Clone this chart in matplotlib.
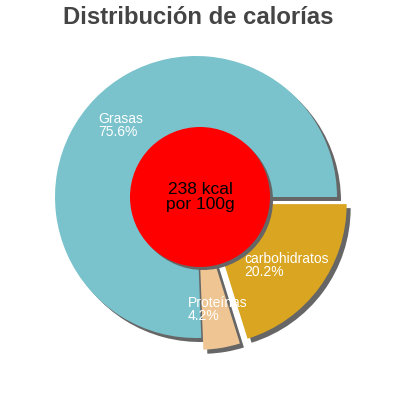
import numpy as np
import matplotlib
matplotlib.use("Agg")
import matplotlib.pyplot as plt
from matplotlib.patches import Circle

plt.rcParams['font.family'] = ['Liberation Sans', 'DejaVu Sans']

# data
labels = ["Grasas", "Proteínas", "carbohidratos"]
values = [75.6, 4.2, 20.2]
colors = ["#7AC3CC", "#EFC693", "#DAA520"]
explode = [0.0, 12, 12]  # px, matplotlib does not scale this by radius
kcal_text = "238 kcal\npor 100g"

fig = plt.figure(figsize=(4, 4), dpi=100)
ax = fig.add_axes([0, 0, 1, 1])

cx, cy, R = 196, 203, 141
sh = 4  # shadow offset in px

# shadows first
ax.pie(values, explode=explode, startangle=0, radius=R,
       center=(cx + sh, cy - sh), colors=["#666666"] * 3,
       wedgeprops=dict(linewidth=0), frame=True)
wedges, _ = ax.pie(values, explode=explode, startangle=0, radius=R,
                   center=(cx, cy), colors=colors,
                   wedgeprops=dict(linewidth=0), frame=True)
ax.set_xlim(0, 400)
ax.set_ylim(0, 400)
ax.set_aspect("equal")
ax.axis("off")

# labels (angle, fraction of radius from the wedge centre)
label_pos = [(139, 0.92), (263.4, 0.62), (308.6, 0.435)]
for w, lab, v, (ang, d) in zip(wedges, labels, values, label_pos):
    wx, wy = w.center
    a = np.deg2rad(ang)
    ax.text(wx + d * R * np.cos(a), wy + d * R * np.sin(a),
            f"{lab}\n{v}%", color="white", fontsize=10, ha="left", va="top",
            linespacing=0.9)

# center circle
ax.add_patch(Circle((203, cy - 3), 70, color="#666666", lw=0))
ax.add_patch(Circle((200, cy), 70, color="#FF0000", lw=0))
ax.text(200, cy, kcal_text, ha="center", va="center", fontsize=12.5,
        color="black", linespacing=1.0)

fig.text(0.495, 0.955, "Distribución de calorías", ha="center", va="center",
         fontsize=17.2, fontweight="bold", color="#444444")

fig.savefig("out.png", dpi=100)
